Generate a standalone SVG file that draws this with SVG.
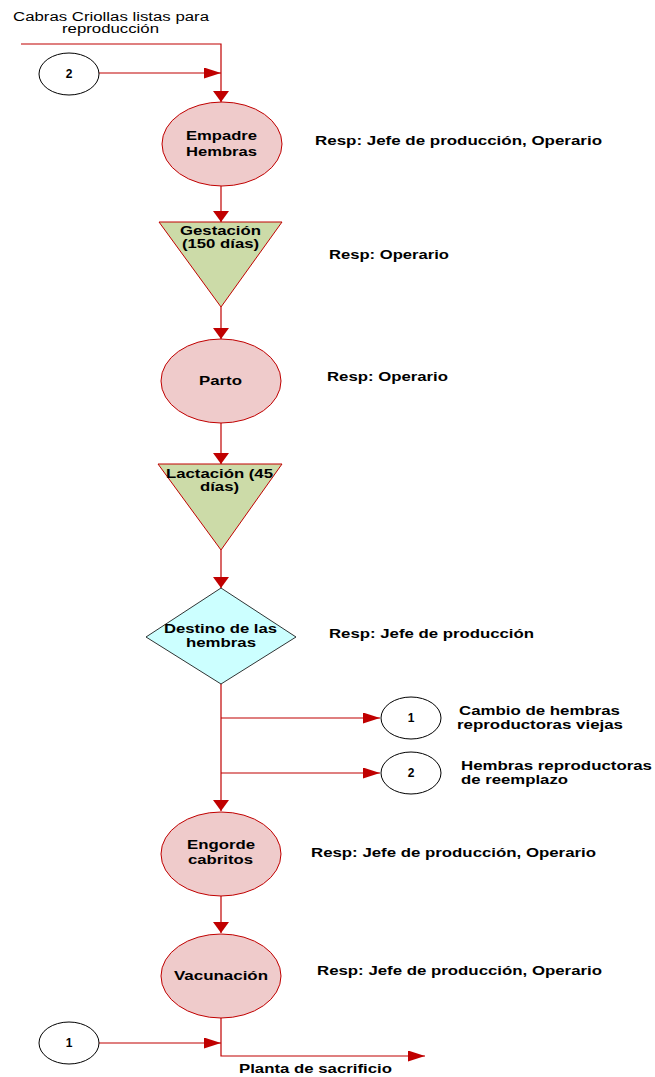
<svg xmlns="http://www.w3.org/2000/svg" width="655" height="1077" viewBox="0 0 655 1077">
<style>
text{font-family:"Liberation Sans",Arial,sans-serif;fill:#000}
.b{font-weight:bold;font-size:12px}
.r{font-size:12.5px}
.proc{fill:#EFCBCB;stroke:#C00000;stroke-width:1}
.tri{fill:#CCDBA8;stroke:#C00000;stroke-width:1}
.dia{fill:#CCFFFF;stroke:#000;stroke-width:0.8}
.con{fill:#fff;stroke:#000;stroke-width:1}
.ln{fill:none;stroke:#C00000;stroke-width:1.2}
</style>
<defs>
<marker id="av" markerUnits="userSpaceOnUse" markerWidth="12" markerHeight="18" refX="11" refY="8" orient="auto"><path d="M0,0 L11,8 L0,16 Z" fill="#C00000"/></marker>
<marker id="ah" markerUnits="userSpaceOnUse" markerWidth="18" markerHeight="12" refX="17" refY="5.5" orient="auto"><path d="M0,0 L17,5.5 L0,11 Z" fill="#C00000"/></marker>
</defs>
<g id="connectors">
<path class="ln" d="M21,44 H221 V102" marker-end="url(#av)"/>
<path class="ln" d="M99,73 H221" marker-end="url(#ah)"/>
<path class="ln" d="M221,186 V222" marker-end="url(#av)"/>
<path class="ln" d="M221,307 V339" marker-end="url(#av)"/>
<path class="ln" d="M221,423 V464" marker-end="url(#av)"/>
<path class="ln" d="M221,550 V588" marker-end="url(#av)"/>
<path class="ln" d="M221,684 V811" marker-end="url(#av)"/>
<path class="ln" d="M221,718 H380" marker-end="url(#ah)"/>
<path class="ln" d="M221,773 H380" marker-end="url(#ah)"/>
<path class="ln" d="M221,896 V933" marker-end="url(#av)"/>
<path class="ln" d="M221,1018 V1056 H425" marker-end="url(#ah)"/>
<path class="ln" d="M99,1043 H221" marker-end="url(#ah)"/>
</g>
<g id="start-label">
<text class="r" x="13" y="21" textLength="196" lengthAdjust="spacingAndGlyphs">Cabras Criollas listas para</text>
<text class="r" x="62" y="33" textLength="97" lengthAdjust="spacingAndGlyphs">reproducción</text>
</g>
<g id="conn-2-top">
<ellipse class="con" cx="69" cy="74" rx="30" ry="21"/>
<text class="b" x="69" y="78" text-anchor="middle">2</text>
</g>
<g id="empadre">
<ellipse class="proc" cx="222" cy="144" rx="60" ry="42"/>
<text class="b" x="186" y="140" textLength="71" lengthAdjust="spacingAndGlyphs">Empadre</text>
<text class="b" x="186" y="156" textLength="71" lengthAdjust="spacingAndGlyphs">Hembras</text>
</g>
<g id="gestacion">
<polygon class="tri" points="159,222 282,222 221,307"/>
<text class="b" x="180" y="235" textLength="81" lengthAdjust="spacingAndGlyphs">Gestación</text>
<text class="b" x="182" y="248" textLength="77" lengthAdjust="spacingAndGlyphs">(150 días)</text>
</g>
<g id="parto">
<ellipse class="proc" cx="221" cy="381" rx="60" ry="42"/>
<text class="b" x="199" y="385" textLength="43" lengthAdjust="spacingAndGlyphs">Parto</text>
</g>
<g id="lactacion">
<polygon class="tri" points="158,464 282,464 221,550"/>
<text class="b" x="166" y="478" textLength="107" lengthAdjust="spacingAndGlyphs">Lactación (45</text>
<text class="b" x="200" y="491" textLength="39" lengthAdjust="spacingAndGlyphs">días)</text>
</g>
<g id="destino">
<polygon class="dia" points="221,588 296,637 221,684 146,637"/>
<text class="b" x="164" y="633" textLength="113" lengthAdjust="spacingAndGlyphs">Destino de las</text>
<text class="b" x="186" y="647" textLength="70" lengthAdjust="spacingAndGlyphs">hembras</text>
</g>
<g id="conn-1-right">
<ellipse class="con" cx="411" cy="718" rx="30" ry="21"/>
<text class="b" x="411" y="722" text-anchor="middle">1</text>
<text class="b" x="459" y="715" textLength="161" lengthAdjust="spacingAndGlyphs">Cambio de hembras</text>
<text class="b" x="457" y="729" textLength="166" lengthAdjust="spacingAndGlyphs">reproductoras viejas</text>
</g>
<g id="conn-2-right">
<ellipse class="con" cx="411" cy="773" rx="30" ry="21"/>
<text class="b" x="411" y="777" text-anchor="middle">2</text>
<text class="b" x="461" y="770" textLength="191" lengthAdjust="spacingAndGlyphs">Hembras reproductoras</text>
<text class="b" x="461" y="784" textLength="107" lengthAdjust="spacingAndGlyphs">de reemplazo</text>
</g>
<g id="engorde">
<ellipse class="proc" cx="221" cy="854" rx="60" ry="42"/>
<text class="b" x="187" y="849" textLength="68" lengthAdjust="spacingAndGlyphs">Engorde</text>
<text class="b" x="188" y="864" textLength="65" lengthAdjust="spacingAndGlyphs">cabritos</text>
</g>
<g id="vacunacion">
<ellipse class="proc" cx="221" cy="976" rx="60" ry="42"/>
<text class="b" x="174" y="980" textLength="94" lengthAdjust="spacingAndGlyphs">Vacunación</text>
</g>
<g id="conn-1-bottom">
<ellipse class="con" cx="69" cy="1043" rx="30" ry="21"/>
<text class="b" x="69" y="1047" text-anchor="middle">1</text>
</g>
<g id="end-label">
<text class="b" x="239" y="1073" textLength="153" lengthAdjust="spacingAndGlyphs">Planta de sacrificio</text>
</g>
<g id="resp-labels">
<text class="b" x="315" y="145" textLength="287" lengthAdjust="spacingAndGlyphs">Resp: Jefe de producción, Operario</text>
<text class="b" x="329" y="259" textLength="120" lengthAdjust="spacingAndGlyphs">Resp: Operario</text>
<text class="b" x="327" y="381" textLength="121" lengthAdjust="spacingAndGlyphs">Resp: Operario</text>
<text class="b" x="329" y="638" textLength="205" lengthAdjust="spacingAndGlyphs">Resp: Jefe de producción</text>
<text class="b" x="311" y="857" textLength="285" lengthAdjust="spacingAndGlyphs">Resp: Jefe de producción, Operario</text>
<text class="b" x="317" y="975" textLength="285" lengthAdjust="spacingAndGlyphs">Resp: Jefe de producción, Operario</text>
</g>
</svg>
